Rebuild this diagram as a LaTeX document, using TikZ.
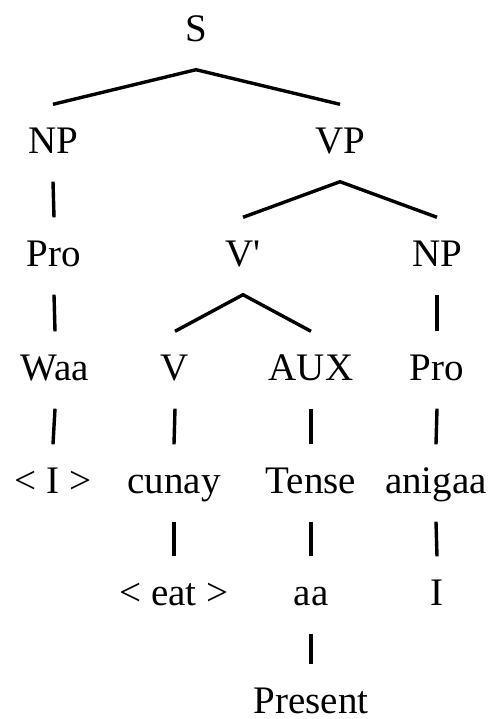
\documentclass[tikz,border=0pt]{standalone}
\usepackage{fontspec}
\setmainfont{Liberation Serif}

\tikzset{every picture/.style={line width=1.7pt}}
\tikzset{word/.style={anchor=base,inner sep=0pt,text height=23.5pt,text depth=13.5pt,font=\fontsize{19.5pt}{23pt}\selectfont}}

\begin{document}
\begin{tikzpicture}[x=0.5pt,y=0.5pt,yscale=-1,xscale=1]
\useasboundingbox (0,0) rectangle (491,719);

% Text Node
\node (S) at (196,41) [word] {S};
% Text Node
\node (NP) at (53,153) [word] {NP};
% Text Node
\node (VP) at (340,153) [word] {VP};
% Text Node
\node (Pro) at (54,266) [word] {Pro};
% Text Node
\node (Vbar) at (243,266) [word] {V\textquotesingle};
% Text Node
\node (NPo) at (437,266) [word] {NP};
% Text Node
\node (Waa) at (55,380) [word] {Waa};
% Text Node
\node (V) at (175,380) [word] {V};
% Text Node
\node (AUX) at (311,380) [word] {AUX};
% Text Node
\node (Proo) at (437,380) [word] {Pro};
% Text Node
\node (gI) at (53,493) [word] {< I >};
% Text Node
\node (cunay) at (174,493) [word] {cunay};
% Text Node
\node (Tense) at (311,493) [word] {Tense};
% Text Node
\node (anigaa) at (436,493) [word] {anigaa};
% Text Node
\node (geat) at (174,605) [word] {< eat >};
% Text Node
\node (aa) at (311,605) [word] {aa};
% Text Node
\node (I) at (437,605) [word] {I};
% Text Node
\node (Present) at (311,713) [word] {Present};

%Straight Lines
\draw (NP.north) -- (S.south) -- (VP.north) ;
\draw (NP.south) -- (Pro.north) ;
\draw (Vbar.north) -- (VP.south) -- (NPo.north) ;
%Straight Lines
\draw (Pro.south) -- (Waa.north) ;
\draw (V.north) -- (Vbar.south) -- (AUX.north) ;
\draw (NPo.south) -- (Proo.north) ;
%Straight Lines
\draw (Waa.south) -- (gI.north) ;
\draw (V.south) -- (cunay.north) ;
\draw (AUX.south) -- (Tense.north) ;
\draw (Proo.south) -- (anigaa.north) ;
%Straight Lines
\draw (cunay.south) -- (geat.north) ;
\draw (Tense.south) -- (aa.north) ;
\draw (anigaa.south) -- (I.north) ;
\draw (aa.south) -- (Present.north) ;

\end{tikzpicture}
\end{document}
